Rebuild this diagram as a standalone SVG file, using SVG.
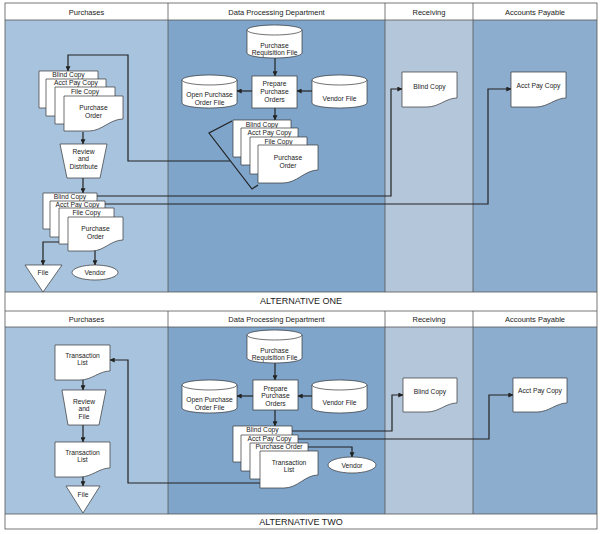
<svg xmlns="http://www.w3.org/2000/svg" width="605" height="534" viewBox="0 0 605 534">
<defs>
<style>
text{font-family:"Liberation Sans",Arial,sans-serif;fill:#1a1a1a;text-anchor:middle}
.hd{font-size:7.5px}
.alt{font-size:9px}
.lb{font-size:6.7px}
.shape{fill:#fff;stroke:#333;stroke-width:0.7}
.grid{fill:none;stroke:#555;stroke-width:0.8}
.con{fill:none;stroke:#222;stroke-width:1.2}
.arr{fill:none;stroke:#222;stroke-width:1.2;marker-end:url(#ah)}
</style>
<marker id="ah" viewBox="0 0 8 8" refX="7.5" refY="4" markerWidth="5" markerHeight="5" markerUnits="userSpaceOnUse" orient="auto">
<path d="M0,0 L8,4 L0,8 Z" fill="#222"/>
</marker>
</defs>
<rect x="0" y="0" width="605" height="534" fill="#fff"/>
<g id="lanes">
<rect x="5" y="20" width="163" height="272" fill="#a8c3dd"/>
<rect x="168" y="20" width="217" height="272" fill="#7fa5cb"/>
<rect x="385" y="20" width="88" height="272" fill="#b4c7da"/>
<rect x="473" y="20" width="124" height="272" fill="#8dadce"/>
<rect x="5" y="327" width="163" height="187" fill="#a8c3dd"/>
<rect x="168" y="327" width="217" height="187" fill="#7fa5cb"/>
<rect x="385" y="327" width="88" height="187" fill="#b4c7da"/>
<rect x="473" y="327" width="124" height="187" fill="#8dadce"/>
<rect class="grid" x="5" y="3" width="592" height="526"/>
<path class="grid" d="M5,20 H597 M5,292 H597 M5,311 H597 M5,327 H597 M5,514 H597 M168,3 V292 M385,3 V292 M473,3 V292 M168,311 V514 M385,311 V514 M473,311 V514"/>
<text class="hd" x="86.5" y="14.5">Purchases</text>
<text class="hd" x="276.5" y="14.5">Data Processing Department</text>
<text class="hd" x="429" y="14.5">Receiving</text>
<text class="hd" x="535" y="14.5">Accounts Payable</text>
<text class="alt" x="301" y="304">ALTERNATIVE ONE</text>
<text class="hd" x="86.5" y="321.5">Purchases</text>
<text class="hd" x="276.5" y="321.5">Data Processing Department</text>
<text class="hd" x="429" y="321.5">Receiving</text>
<text class="hd" x="535" y="321.5">Accounts Payable</text>
<text class="alt" x="301" y="525">ALTERNATIVE TWO</text>
</g>
<g id="connectors">
<path class="arr" d="M275,58 V76"/>
<path class="arr" d="M252,91 H237"/>
<path class="arr" d="M312,91 H297"/>
<path class="arr" d="M275,108 V120"/>
<path class="con" d="M232,121 L209,133 L252,189 L258,185"/>
<path class="arr" d="M230,161 H128 V55 H68 V71"/>
<path class="arr" d="M83,132 V144"/>
<path class="arr" d="M83,178 V193"/>
<path class="arr" d="M97,196 H391 V89 H402"/>
<path class="arr" d="M105,204 H488 V89 H511"/>
<path class="arr" d="M59,242 H43 V265"/>
<path class="arr" d="M95,250 V265"/>
<path class="arr" d="M275,363 V380"/>
<path class="arr" d="M253,396 H237"/>
<path class="arr" d="M312,396 H298"/>
<path class="arr" d="M275,410 V426"/>
<path class="arr" d="M292,431 H392 V395 H403"/>
<path class="arr" d="M298,439 H489 V395 H513"/>
<path class="arr" d="M308,447 H352 V457"/>
<path class="arr" d="M260,483 H128 V360 H110"/>
<path class="arr" d="M83,380 V390"/>
<path class="arr" d="M83,425 V442"/>
<path class="arr" d="M83,477 V486"/>
</g>
<g id="p1-blind">
<path class="shape" d="M39,71 H98 V101 C90,101 85,108 74,108 H39 Z"/>
<text class="lb" x="68.5" y="77.3">Blind Copy</text>
</g>
<g id="p1-acct">
<path class="shape" d="M46,79 H106 V109 C98,109 93,116 81,116 H46 Z"/>
<text class="lb" x="76" y="85.3">Acct Pay Copy</text>
</g>
<g id="p1-file">
<path class="shape" d="M55,87 H115 V117 C107,117 102,124 90,124 H55 Z"/>
<text class="lb" x="85" y="93.8">File Copy</text>
</g>
<g id="p1-po">
<path class="shape" d="M64,96 H123 V119 C110,119 102,131 89,131 H64 Z"/>
<text class="lb" x="93.5" y="109.5">Purchase</text>
<text class="lb" x="93.5" y="117.5">Order</text>
</g>
<g id="p1-review">
<path class="shape" d="M60,144 H107 L100,178 H67 Z"/>
<text class="lb" x="83.5" y="153.5">Review</text>
<text class="lb" x="83.5" y="160.5">and</text>
<text class="lb" x="83.5" y="168.5">Distribute</text>
</g>
<g id="p1-blind2">
<path class="shape" d="M43,193 H97 V223 C90,223 85,229 74,229 H43 Z"/>
<text class="lb" x="70" y="199.3">Blind Copy</text>
</g>
<g id="p1-acct2">
<path class="shape" d="M50,201 H105 V231 C98,231 93,237 81,237 H50 Z"/>
<text class="lb" x="77.5" y="207.3">Acct Pay Copy</text>
</g>
<g id="p1-file2">
<path class="shape" d="M59,208 H114 V238 C107,238 102,244 90,244 H59 Z"/>
<text class="lb" x="86.5" y="215.3">File Copy</text>
</g>
<g id="p1-po2">
<path class="shape" d="M68,217 H123 V240 C111,240 104,251 92,251 H68 Z"/>
<text class="lb" x="95.5" y="230.5">Purchase</text>
<text class="lb" x="95.5" y="238.5">Order</text>
</g>
<g id="p1-filestore">
<path class="shape" d="M25,265 H62 L43,292 Z"/>
<text class="lb" x="43" y="274.5">File</text>
</g>
<g id="p1-vendor">
<ellipse class="shape" cx="95" cy="272.5" rx="23" ry="7.5"/>
<text class="lb" x="95" y="275">Vendor</text>
</g>
<g id="d1-prf">
<path class="shape" d="M247,30 A27.5,5 0 0 1 302,30 V53 A27.5,5 0 0 1 247,53 Z"/>
<path class="shape" d="M247,30 A27.5,5 0 0 0 302,30" fill="none"/>
<text class="lb" x="274.5" y="47.5">Purchase</text>
<text class="lb" x="274.5" y="54.5">Requisition File</text>
</g>
<g id="d1-prepare">
<rect class="shape" x="252" y="76" width="45" height="32"/>
<text class="lb" x="274.5" y="85.5">Prepare</text>
<text class="lb" x="274.5" y="93.5">Purchase</text>
<text class="lb" x="274.5" y="101.5">Orders</text>
</g>
<g id="d1-opof">
<path class="shape" d="M182,80 A27.5,5 0 0 1 237,80 V103 A27.5,5 0 0 1 182,103 Z"/>
<path class="shape" d="M182,80 A27.5,5 0 0 0 237,80" fill="none"/>
<text class="lb" x="209.5" y="97">Open Purchase</text>
<text class="lb" x="209.5" y="104.5">Order File</text>
</g>
<g id="d1-vf">
<path class="shape" d="M312,80 A27.5,5 0 0 1 367,80 V103 A27.5,5 0 0 1 312,103 Z"/>
<path class="shape" d="M312,80 A27.5,5 0 0 0 367,80" fill="none"/>
<text class="lb" x="339.5" y="101">Vendor File</text>
</g>
<g id="d1-blind">
<path class="shape" d="M233,120 H291 V150 C283,150 278,157 266,157 H233 Z"/>
<text class="lb" x="262" y="126.5">Blind Copy</text>
</g>
<g id="d1-acct">
<path class="shape" d="M241,128 H298 V158 C290,158 285,165 273,165 H241 Z"/>
<text class="lb" x="269.5" y="134.5">Acct Pay Copy</text>
</g>
<g id="d1-file">
<path class="shape" d="M250,137 H307 V167 C299,167 294,174 282,174 H250 Z"/>
<text class="lb" x="278.5" y="143.5">File Copy</text>
</g>
<g id="d1-po">
<path class="shape" d="M258,145 H318 V170 C305,170 297,183 283,183 H258 Z"/>
<text class="lb" x="288" y="159.5">Purchase</text>
<text class="lb" x="288" y="167.5">Order</text>
</g>
<g id="r1-blind">
<path class="shape" d="M402,72 H457 V98 C446,98 439,107 427,107 H402 Z"/>
<text class="lb" x="429.5" y="88.5">Blind Copy</text>
</g>
<g id="a1-acct">
<path class="shape" d="M511,72 H566 V98 C555,98 548,107 536,107 H511 Z"/>
<text class="lb" x="538.5" y="87.5">Acct Pay Copy</text>
</g>
<g id="p2-tl1">
<path class="shape" d="M55,345 H110 V371 C99,371 92,380 80,380 H55 Z"/>
<text class="lb" x="82.5" y="357.5">Transaction</text>
<text class="lb" x="82.5" y="364.5">List</text>
</g>
<g id="p2-review">
<path class="shape" d="M62,390 H106 L99,425 H68 Z"/>
<text class="lb" x="84" y="403.5">Review</text>
<text class="lb" x="84" y="410.5">and</text>
<text class="lb" x="84" y="418.5">File</text>
</g>
<g id="p2-tl2">
<path class="shape" d="M55,442 H110 V468 C99,468 92,477 80,477 H55 Z"/>
<text class="lb" x="82.5" y="454.5">Transaction</text>
<text class="lb" x="82.5" y="461.5">List</text>
</g>
<g id="p2-filestore">
<path class="shape" d="M66,486 H100 L83,513 Z"/>
<text class="lb" x="83" y="496.5">File</text>
</g>
<g id="d2-prf">
<path class="shape" d="M247,335 A27.5,5 0 0 1 302,335 V358 A27.5,5 0 0 1 247,358 Z"/>
<path class="shape" d="M247,335 A27.5,5 0 0 0 302,335" fill="none"/>
<text class="lb" x="274.5" y="353">Purchase</text>
<text class="lb" x="274.5" y="360">Requisition File</text>
</g>
<g id="d2-prepare">
<rect class="shape" x="253" y="380" width="45" height="30"/>
<text class="lb" x="275.5" y="390.5">Prepare</text>
<text class="lb" x="275.5" y="398">Purchase</text>
<text class="lb" x="275.5" y="405.5">Orders</text>
</g>
<g id="d2-opof">
<path class="shape" d="M182,385 A27.5,5 0 0 1 237,385 V408 A27.5,5 0 0 1 182,408 Z"/>
<path class="shape" d="M182,385 A27.5,5 0 0 0 237,385" fill="none"/>
<text class="lb" x="209.5" y="402">Open Purchase</text>
<text class="lb" x="209.5" y="409.5">Order File</text>
</g>
<g id="d2-vf">
<path class="shape" d="M312,385 A27.5,5 0 0 1 367,385 V408 A27.5,5 0 0 1 312,408 Z"/>
<path class="shape" d="M312,385 A27.5,5 0 0 0 367,385" fill="none"/>
<text class="lb" x="339.5" y="405">Vendor File</text>
</g>
<g id="d2-blind">
<path class="shape" d="M233,426 H292 V456 C284,456 279,462 267,462 H233 Z"/>
<text class="lb" x="262.5" y="432.3">Blind Copy</text>
</g>
<g id="d2-acct">
<path class="shape" d="M241,435 H298 V465 C290,465 285,471 273,471 H241 Z"/>
<text class="lb" x="269.5" y="440.8">Acct Pay Copy</text>
</g>
<g id="d2-po">
<path class="shape" d="M250,443 H308 V473 C300,473 295,479 283,479 H250 Z"/>
<text class="lb" x="279" y="449.3">Purchase Order</text>
</g>
<g id="d2-tl">
<path class="shape" d="M260,451 H318 V475 C305,475 298,488 284,488 H260 Z"/>
<text class="lb" x="289" y="464.5">Transaction</text>
<text class="lb" x="289" y="471.5">List</text>
</g>
<g id="d2-vendor">
<ellipse class="shape" cx="352" cy="465" rx="24" ry="8"/>
<text class="lb" x="352" y="467.5">Vendor</text>
</g>
<g id="r2-blind">
<path class="shape" d="M403,378 H457 V403 C446,403 439,412 427,412 H403 Z"/>
<text class="lb" x="430" y="394">Blind Copy</text>
</g>
<g id="a2-acct">
<path class="shape" d="M513,378 H567 V403 C556,403 549,412 537,412 H513 Z"/>
<text class="lb" x="540" y="393">Acct Pay Copy</text>
</g>
</svg>
